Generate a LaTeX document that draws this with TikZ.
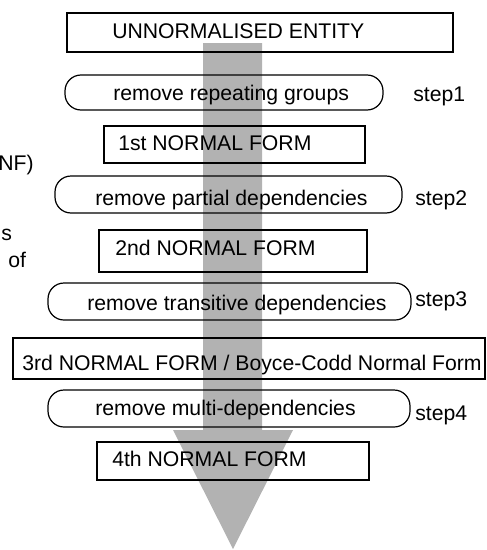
\documentclass[tikz,border=0pt]{standalone}
\usepackage{fontspec}
\setmainfont{Liberation Sans}
\begin{document}
\begin{tikzpicture}[x=0.75pt,y=-0.75pt,
  lbl/.style={anchor=base west, inner sep=0pt, font=\fontsize{15.9}{19}\selectfont},
  formbox/.style={draw=black, line width=2pt},
  stepbox/.style={draw=black, line width=0.9pt, rounded corners=12pt},
  flow/.style={fill=black!30, draw=none}]
\useasboundingbox (0,0) rectangle (486,550);

% broad grey arrow running down through all stages
\coordinate (shaftTL) at (203,43);
\coordinate (shaftTR) at (262,43);
\coordinate (tip) at (233,549);
\fill[flow] (shaftTL) -- (shaftTR) -- (262,430) -- (293,430) -- (tip)
  -- (173,430) -- (203,430) -- cycle;

% normal forms (square boxes) and the steps between them (rounded boxes)
\draw[formbox] (67,13) rectangle (453,52);
\draw[stepbox] (65,75) rectangle (383,110);
\draw[formbox] (104,126) rectangle (365,163);
\draw[stepbox] (55,176) rectangle (402,213);
\draw[formbox] (99,230) rectangle (367,272);
\draw[stepbox] (48,283) rectangle (411,320);
\draw[formbox] (13,338) rectangle (485,379);
\draw[stepbox] (48,390) rectangle (410,427);
\draw[formbox] (97,442) rectangle (369,480);

% box texts
\node[lbl] (ue)  at (112,38)  {UNNORMALISED ENTITY};
\node[lbl] (r1)  at (113,100) {remove repeating groups};
\node[lbl] (nf1) at (118,150) {1st NORMAL FORM};
\node[lbl] (r2)  at (95,205)  {remove partial dependencies};
\node[lbl] (nf2) at (115,255) {2nd NORMAL FORM};
\node[lbl] (r3)  at (87,310)  {remove transitive dependencies};
\node[lbl] (nf3) at (22,370)  {3rd NORMAL FORM / Boyce-Codd Normal Form};
\node[lbl] (r4)  at (95,415)  {remove multi-dependencies};
\node[lbl] (nf4) at (112,466) {4th NORMAL FORM};

% step numbers
\node[lbl] (s1) at (413,101) {step1};
\node[lbl] (s2) at (415,205) {step2};
\node[lbl] (s3) at (415,306) {step3};
\node[lbl] (s4) at (415,420) {step4};

% text running in from the left edge
\node[lbl] (f1) at (-2,170) {NF)};
\node[lbl] (f2) at (1,240)  {s};
\node[lbl] (f3) at (8,267)  {of};
\end{tikzpicture}
\end{document}
